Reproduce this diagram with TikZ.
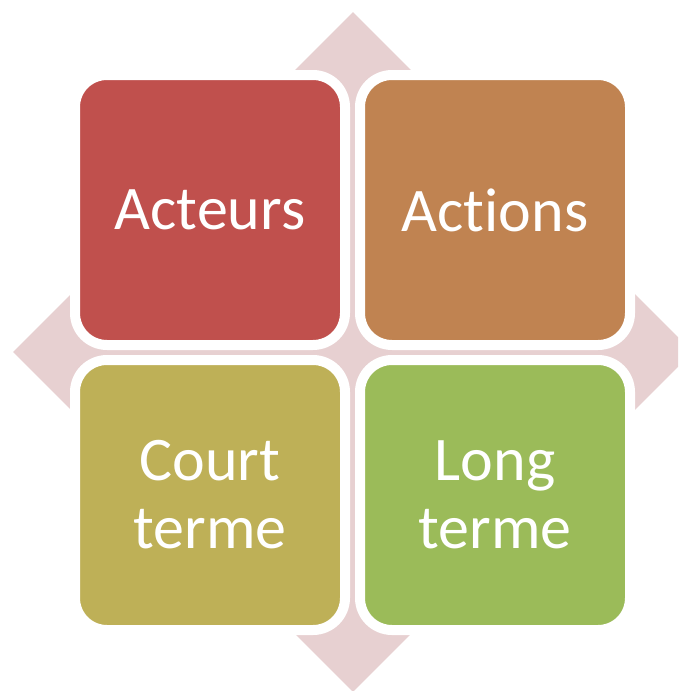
\documentclass[tikz,border=0pt]{standalone}
\usepackage{fontspec}
\setmainfont{Carlito}[Ligatures=NoCommon]
\usetikzlibrary{positioning, shapes.geometric}
\definecolor{qdpink}{RGB}{231, 208, 209}
\definecolor{qdred}{RGB}{192, 80, 77}
\definecolor{qdorange}{RGB}{192, 131, 81}
\definecolor{qdolive}{RGB}{190, 176, 87}
\definecolor{qdgreen}{RGB}{155, 187, 89}

\begin{document}
\begin{tikzpicture}[x=1pt, y=-1pt,
  tile/.style={rectangle, rounded corners=32pt, minimum size=270pt,
               draw=white, line width=10pt, text=white, align=center,
               inner sep=0pt, font=\fontsize{62}{68}\selectfont}]
  \useasboundingbox (0,0) rectangle (678,691);
  \clip (0,0) rectangle (678,691);

  % Background diamond
  \node[diamond, fill=qdpink, minimum size=680pt, inner sep=0pt] (back) at (353,352) {};

  % Four tiles
  \node[tile, fill=qdred] (acteurs) at (210,210) {Acteurs};
  \node[tile, fill=qdorange, right=5pt of acteurs] (actions) {Actions};
  \node[tile, fill=qdolive, below=5pt of acteurs] (court) {Court\\terme};
  \node[tile, fill=qdgreen, below=5pt of actions] (long) {Long\\terme};
\end{tikzpicture}
\end{document}
